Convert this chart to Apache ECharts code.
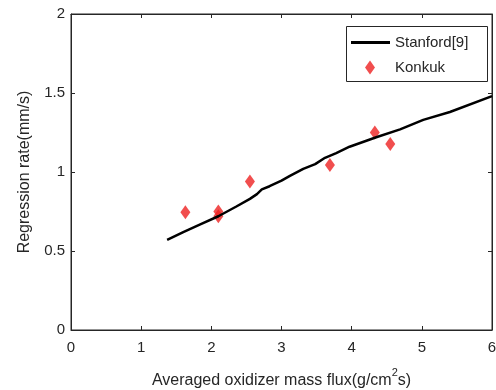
<!DOCTYPE html>
<html>
<head>
<meta charset="utf-8">
<script src="https://cdn.jsdelivr.net/npm/echarts@6/dist/echarts.min.js"></script>
<style>
  html, body { margin: 0; padding: 0; background: #fff; }
  #chart { width: 496px; height: 390px; }
</style>
</head>
<body>
<div id="chart"></div>
<script>
// Stanford[9] correlation curve
const stanfordX = [1.37, 1.6, 1.85, 2.1, 2.35, 2.55, 2.65, 2.72, 2.83, 3.0, 3.12, 3.31, 3.48, 3.62, 3.78, 3.97, 4.35, 4.69, 5.02, 5.4, 6.0]
const stanfordY = [0.57, 0.62, 0.67, 0.72, 0.78, 0.83, 0.86, 0.89, 0.91, 0.945, 0.975, 1.02, 1.05, 1.09, 1.12, 1.16, 1.22, 1.27, 1.33, 1.38, 1.48]

// Konkuk test points
const konkukX = [1.63, 2.1, 2.1, 2.55, 3.69, 4.33, 4.55]
const konkukY = [0.745, 0.75, 0.72, 0.94, 1.044, 1.25, 1.177]

const xTicks = [0, 1, 2, 3, 4, 5, 6]
const yTicks = [0, 0.5, 1, 1.5, 2]

const font = 'Arial, "Liberation Sans", sans-serif'
const ink = '#262626'
const red = '#ee2222'

const myEcharts = echarts.init(document.getElementById('chart'))

// top / right axes only close the box
const boxAxis = (pos, min, max, interval) => ({
  type: 'value',
  show: true,
  position: pos,
  min,
  max,
  interval,
  axisLine: { show: true, onZero: false, lineStyle: { color: ink, width: 1 } },
  axisTick: { show: true, inside: true, length: 4, lineStyle: { color: ink } },
  axisLabel: { show: false },
  splitLine: { show: false }
})

const legendText = { fontFamily: font, fontSize: 15, color: ink }

myEcharts.setOption({
  animation: false,
  textStyle: { fontFamily: font },
  grid: {
    left: 71, right: 4, top: 14, bottom: 60,
    outerBoundsMode: 'none',
    show: true, borderColor: ink, borderWidth: 1, backgroundColor: 'transparent'
  },
  graphic: [
    {
      type: 'rect',
      left: 346,
      top: 26,
      shape: { width: 141, height: 55 },
      style: { fill: '#fff', stroke: ink, lineWidth: 1 },
      z: 1
    }
  ],
  legend: [
    {
      left: 351,
      top: 35,
      padding: 0,
      itemWidth: 39,
      itemHeight: 3,
      icon: 'rect',
      textStyle: legendText,
      data: ['Stanford[9]']
    },
    {
      left: 365,
      top: 60,
      padding: 0,
      itemWidth: 10,
      itemHeight: 14,
      icon: 'diamond',
      textStyle: Object.assign({ padding: [0, 0, 0, 15] }, legendText),
      data: ['Konkuk']
    }
  ],
  xAxis: [
    {
      type: 'value',
      position: 'bottom',
      min: xTicks[0],
      max: xTicks[xTicks.length - 1],
      interval: 1,
      name: '{n|Averaged oxidizer mass flux(g/cm}{s|2}{n|s)}',
      nameLocation: 'middle',
      nameGap: 37,
      nameTextStyle: {
        rich: {
          n: { fontFamily: font, fontSize: 16, color: ink, padding: [6, 0, 0, 0] },
          s: { fontFamily: font, fontSize: 11, color: ink, verticalAlign: 'top' }
        }
      },
      axisLine: { show: true, onZero: false, lineStyle: { color: ink, width: 1 } },
      axisTick: { show: true, inside: true, length: 4, lineStyle: { color: ink } },
      axisLabel: { color: ink, fontSize: 15, fontFamily: font, margin: 10 },
      splitLine: { show: false }
    },
    boxAxis('top', xTicks[0], xTicks[xTicks.length - 1], 1)
  ],
  yAxis: [
    {
      type: 'value',
      position: 'left',
      min: yTicks[0],
      max: yTicks[yTicks.length - 1],
      interval: 0.5,
      name: 'Regression rate(mm/s)',
      nameLocation: 'middle',
      nameGap: 38,
      nameTextStyle: { fontFamily: font, fontSize: 16, color: ink },
      axisLine: { show: true, onZero: false, lineStyle: { color: ink, width: 1 } },
      axisTick: { show: true, inside: true, length: 4, lineStyle: { color: ink } },
      axisLabel: { color: ink, fontSize: 15, fontFamily: font, margin: 6 },
      splitLine: { show: false }
    },
    boxAxis('right', yTicks[0], yTicks[yTicks.length - 1], 0.5)
  ],
  series: [
    {
      name: 'Stanford[9]',
      type: 'line',
      symbol: 'none',
      lineStyle: { color: '#000', width: 2.5 },
      itemStyle: { color: '#000' },
      data: stanfordX.map((x, i) => [x, stanfordY[i]])
    },
    {
      name: 'Konkuk',
      type: 'scatter',
      symbol: 'diamond',
      symbolSize: [10, 14],
      itemStyle: { color: red },
      data: konkukX.map((x, i) => [x, konkukY[i]])
    },
    {
      // empty series so the top/right box axes get drawn
      name: 'box',
      type: 'line',
      xAxisIndex: 1,
      yAxisIndex: 1,
      silent: true,
      data: []
    }
  ]
})
</script>
</body>
</html>
